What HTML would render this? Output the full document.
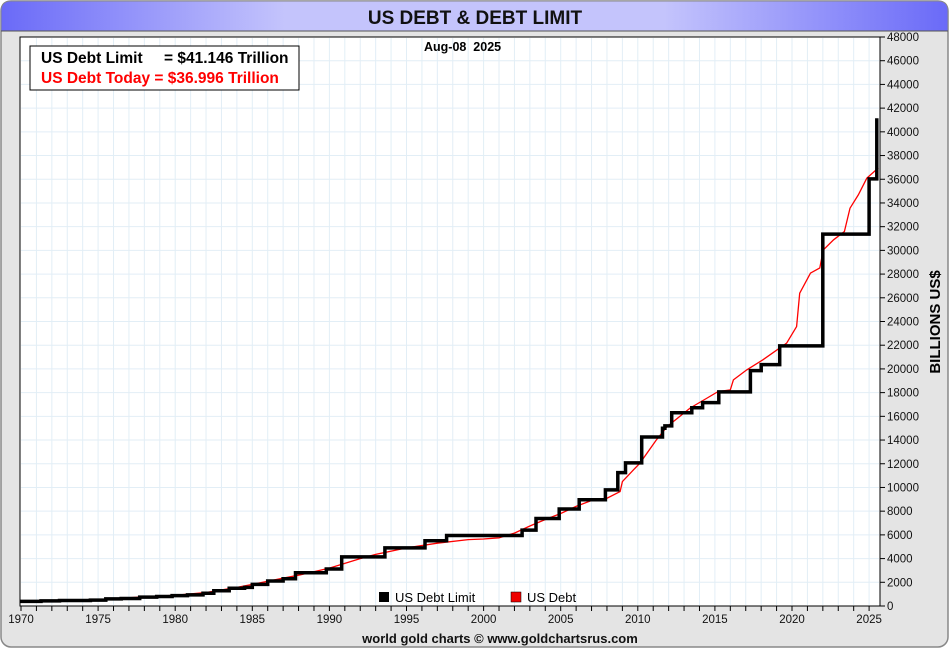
<!DOCTYPE html>
<html><head><meta charset="utf-8"><style>
body{margin:0;width:950px;height:650px;overflow:hidden;background:#fff;font-family:"Liberation Sans",sans-serif}
</style></head><body>
<svg width="950" height="650" xmlns="http://www.w3.org/2000/svg" id="chart">
<defs>
<linearGradient id="hdr" x1="0" x2="1" y1="0" y2="0">
<stop offset="0" stop-color="#6a6af8"/><stop offset="0.3" stop-color="#c4c4fc"/><stop offset="0.7" stop-color="#c4c4fc"/><stop offset="1" stop-color="#6a6af8"/></linearGradient>
</defs>
<rect x="1" y="1" width="947" height="646" rx="10" fill="#e4e4e4" stroke="#888" stroke-width="1.5"/>
<path d="M1,31 V11 Q1,1 11,1 H938 Q948,1 948,11 V31 Z" fill="url(#hdr)" stroke="#888"/>
<line x1="1" y1="31" x2="948" y2="31" stroke="#555"/>
<text x="475" y="24" text-anchor="middle" font-size="19" font-weight="bold" fill="#111">US DEBT &amp; DEBT LIMIT</text>
<rect x="20" y="37" width="860" height="569" fill="#fff" stroke="#000"/>
<g id="grid"></g>
<g id="axes"></g>
<g id="series"></g>
<rect x="30" y="46" width="269" height="44" fill="#fff" stroke="#000"/>
<text x="41" y="63" font-size="15.5" font-weight="bold" fill="#000">US Debt Limit <tspan x="164">= $41.146 Trillion</tspan></text>
<text x="41" y="83" font-size="15.5" font-weight="bold" fill="#f00">US Debt Today = $36.996 Trillion</text>
<text x="424" y="51" font-size="12.5" font-weight="bold" xml:space="preserve">Aug-08  2025</text>
<rect x="379" y="592" width="10" height="10" fill="#000"/>
<text x="395" y="602" font-size="13">US Debt Limit</text>
<rect x="511" y="592" width="10" height="10" fill="#e00" stroke="#000" stroke-width="0.5"/>
<text x="527" y="602" font-size="13">US Debt</text>
<text transform="translate(940,322) rotate(-90)" text-anchor="middle" font-size="15" font-weight="bold">BILLIONS US$</text>
<text x="500" y="643" text-anchor="middle" font-size="13" font-weight="bold" fill="#111">world gold charts © www.goldchartsrus.com</text>
</svg>
<script>
const xTicks=[1970,1975,1980,1985,1990,1995,2000,2005,2010,2015,2020,2025];
const yTicks=[0,2000,4000,6000,8000,10000,12000,14000,16000,18000,20000,22000,24000,26000,28000,30000,32000,34000,36000,38000,40000,42000,44000,46000,48000];
const limitYears=[1969.9,1971.3,1972.5,1974.5,1975.5,1976.5,1977.7,1978.8,1979.8,1980.8,1981.8,1982.5,1983.5,1984.5,1985.0,1986.0,1987.0,1987.8,1989.8,1990.8,1993.6,1996.2,1997.6,2002.5,2003.4,2004.9,2006.2,2007.9,2008.7,2009.2,2010.25,2011.6,2011.76,2012.2,2013.5,2014.2,2015.25,2017.3,2018.0,2019.2,2022.0,2025.0,2025.5];
const limitValues=[390,430,465,495,595,636,752,798,879,935,1079,1290,1490,1573,1823,2111,2300,2800,3122,4145,4900,5500,5950,6400,7384,8184,8965,9790,11250,12070,14260,15000,15190,16310,16730,17160,18060,19860,20360,21940,31370,36030,41146];
const debtYears=[1969.9,1972,1975,1978,1980,1982,1984,1985,1987,1988,1990,1992,1993,1995,1997,1999,2000,2001,2002,2003,2004,2005,2006,2007,2008.0,2008.85,2009.0,2010.15,2011.2,2011.9,2013.4,2014.5,2015.2,2016.0,2016.2,2017.06,2018.1,2019.65,2020.3,2020.5,2021.2,2021.8,2022.03,2022.7,2023.4,2023.76,2024.3,2024.85,2025.6];
const debtValues=[370,430,540,780,900,1140,1570,1820,2350,2600,3200,4000,4350,4900,5300,5600,5650,5750,6150,6750,7300,7800,8400,8900,9090,9650,10490,12070,14000,15130,16700,17550,18090,18230,19070,19920,20760,22170,23570,26390,28080,28520,30040,30890,31590,33560,34680,36090,36960];
const NS="http://www.w3.org/2000/svg";
const X0=21,XS=15.42,Y0=606,YS=569/48000;
const xS=y=>X0+(y-1970)*XS, yS=v=>Y0-v*YS;
function mk(t,a,p){const e=document.createElementNS(NS,t);for(const k in a)e.setAttribute(k,a[k]);p.appendChild(e);return e;}
const grid=document.getElementById('grid'),axes=document.getElementById('axes'),ser=document.getElementById('series');
for(let yr=1971;yr<=2025;yr++){const l=mk('line',{x1:xS(yr),x2:xS(yr),y1:38,y2:605,stroke:'#e2eef6'},grid);

}
for(const v of yTicks){if(v===0||v===48000)continue;const l=mk('line',{x1:21,x2:879,y1:yS(v),y2:yS(v),stroke:'#e2eef6'},grid);

}
for(let yr=1970;yr<=2025;yr++){const t=mk('line',{x1:xS(yr),x2:xS(yr),y1:606,y2:611,stroke:'#000'},axes);

}
for(const yr of xTicks){const t=mk('text',{x:xS(yr),y:623,'text-anchor':'middle','font-size':11.5,fill:'#111'},axes);t.textContent=yr;

}
for(const v of yTicks){const t=mk('line',{x1:880,x2:885,y1:yS(v),y2:yS(v),stroke:'#000'},axes);


const l=mk('text',{x:887,y:yS(v)+4,'font-size':11.5,fill:'#111'},axes);l.textContent=v;

}
let dp='';debtYears.forEach((y,i)=>{dp+=(i?'L':'M')+xS(y).toFixed(1)+','+yS(debtValues[i]).toFixed(1);});
const d=mk('path',{d:dp,fill:'none',stroke:'#f00','stroke-width':1.3},ser);


let lp='';limitYears.forEach((y,i)=>{const x=xS(y).toFixed(1),v=yS(limitValues[i]).toFixed(1);lp+=i?('H'+x+'V'+v):('M'+x+','+v);});
lp+='H'+xS(limitYears[limitYears.length-1]).toFixed(1);
const l=mk('path',{d:lp,fill:'none',stroke:'#000','stroke-width':3.5},ser);


</script>
</body></html>
